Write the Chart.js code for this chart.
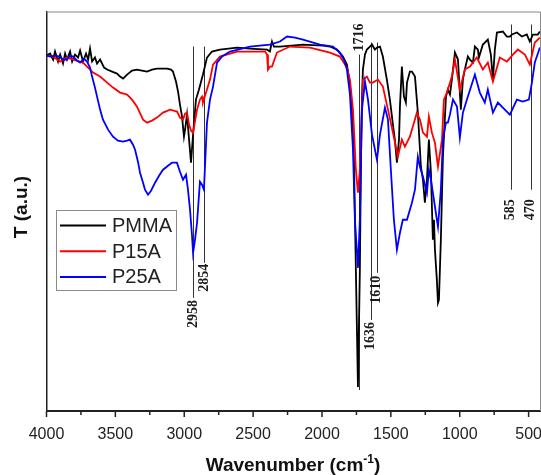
<!DOCTYPE html>
<html><head><meta charset="utf-8">
<script src="https://cdn.jsdelivr.net/npm/chart.js@4/dist/chart.umd.min.js"></script>
<style>html,body{margin:0;padding:0;background:#fff}canvas{display:block}</style>
</head><body>
<canvas id="c" width="541" height="475"></canvas>
<script>
// ---- data (wavenumber cm-1, transmittance in arbitrary units) ----
const seriesNames = ['PMMA', 'P15A', 'P25A'];
const pmmaWave = [4000,3974,3952,3938,3916,3901,3880,3865,3851,3829,3814,3793,3771,3756,3735,3713,3698,3684,3669,3648,3633,3611,3582,3560,3524,3488,3466,3444,3415,3379,3343,3307,3270,3234,3198,3161,3125,3096,3082,3060,3045,3031,3016,3002,2994,2980,2965,2951,2936,2915,2893,2864,2835,2799,2741,2617,2523,2399,2378,2363,2349,2305,2138,1993,1942,1891,1848,1819,1797,1783,1768,1754,1739,1725,1717,1710,1703,1688,1674,1652,1637,1616,1601,1579,1558,1529,1507,1485,1471,1456,1441,1434,1420,1405,1391,1383,1362,1347,1325,1304,1282,1267,1253,1238,1224,1209,1195,1187,1180,1166,1158,1151,1144,1137,1122,1100,1086,1071,1057,1035,1013,992,977,963,941,926,904,890,868,861,832,796,774,759,745,730,687,658,636,621,585,549,513,491,469,433,418];
const pmmaT = [355,357,351,359,349,356,347,357,351,359,349,356,353,360,349,357,351,362,349,353,347,351,343,341,339,337,334,332,336,340,341,340,339,341,342,342,342,341,339,329,319,306,294,274,281,296,271,248,276,311,321,336,353,359,361,363,362,361,359,369,364,364,366,365,364,361,354,346,326,301,251,141,24,141,251,311,341,356,361,364,366,361,363,364,354,331,311,286,271,248,271,304,344,314,308,328,339,339,334,298,244,231,208,231,271,238,171,191,161,131,108,111,141,171,254,314,321,316,331,358,351,301,331,341,354,351,348,364,361,353,366,371,356,331,361,378,379,374,374,376,378,374,376,369,376,376,379];
const p15aWave = [4000,3952,3901,3851,3807,3735,3662,3611,3560,3517,3466,3415,3379,3343,3299,3270,3234,3198,3154,3103,3052,3031,3009,2994,2980,2965,2951,2936,2922,2907,2886,2871,2864,2835,2813,2791,2741,2617,2486,2414,2399,2392,2378,2363,2327,2233,2087,1942,1870,1819,1797,1775,1754,1739,1725,1710,1703,1674,1652,1630,1594,1558,1521,1485,1449,1420,1398,1362,1311,1289,1267,1238,1224,1202,1180,1158,1129,1115,1093,1057,1035,999,963,926,876,832,796,759,709,658,614,578,527,491,455,418];
const p15aT = [355,354,349,353,351,348,338,334,328,323,318,316,311,304,291,288,290,293,298,301,299,293,291,297,298,286,280,278,289,301,311,314,308,321,331,346,354,359,359,359,356,341,344,344,358,364,363,358,354,343,331,301,241,218,241,301,331,334,328,328,331,324,301,278,254,271,264,274,298,291,278,274,294,278,268,244,271,311,318,334,351,321,341,344,353,341,348,329,353,349,356,361,356,346,368,373];
const p25aWave = [4000,3974,3938,3901,3880,3851,3829,3807,3778,3756,3727,3706,3684,3669,3648,3633,3611,3590,3553,3517,3481,3444,3415,3394,3372,3357,3336,3321,3299,3285,3263,3241,3212,3183,3154,3118,3089,3053,3031,3009,2987,2973,2958,2944,2936,2922,2907,2886,2871,2857,2835,2813,2791,2762,2726,2668,2523,2378,2305,2254,2196,2138,2015,1921,1870,1841,1819,1797,1775,1761,1739,1725,1717,1710,1688,1666,1637,1601,1579,1543,1521,1500,1478,1456,1434,1413,1383,1347,1325,1304,1289,1267,1238,1224,1209,1195,1180,1158,1137,1122,1100,1086,1071,1049,1020,999,977,941,890,854,818,796,759,723,687,636,585,542,498,476,455,418];
const p25aT = [355,354,355,354,351,351,355,354,350,348,352,349,343,334,323,314,301,291,281,274,270,269,270,271,266,261,249,238,228,221,216,220,228,235,241,245,248,248,239,231,236,221,201,176,158,171,188,229,226,221,288,311,324,348,354,359,364,366,369,374,373,371,366,364,358,351,341,316,261,191,143,191,251,301,329,311,276,251,276,303,291,241,191,161,178,191,191,208,221,254,244,234,218,241,231,218,204,184,221,271,288,288,296,311,304,273,298,314,336,318,308,321,298,308,303,296,311,309,311,328,348,363];
const xTickValues = [4000, 3500, 3000, 2500, 2000, 1500, 1000, 500];
const peakLabels = ['2958', '2854', '1716', '1636', '1610', '585', '470'];
const peakWave   = [2935, 2857, 1730, 1645, 1604, 629, 484];
const peakTop    = [364, 364, 356, 368, 368, 386, 386];
const peakBottom = [113, 148, 21, 91, 138, 221, 221];
const peakLabelT = [97, 133, 373, 75, 121, 201, 201];

const seriesColors = ['#000000', '#ff0000', '#0000ff'];
function pts(w, t) { return w.map((x, i) => ({ x: x, y: t[i] })); }

const decor = {
  id: 'decor',
  beforeDatasetsDraw(chart) {
    const ctx = chart.ctx, xs = chart.scales.x, ys = chart.scales.y;
    ctx.save();
    ctx.strokeStyle = '#333';
    ctx.lineWidth = 1;
    for (let i = 0; i < peakWave.length; i++) {
      const x = Math.round(xs.getPixelForValue(peakWave[i])) + 0.5;
      ctx.beginPath();
      ctx.moveTo(x, ys.getPixelForValue(peakTop[i]));
      ctx.lineTo(x, ys.getPixelForValue(peakBottom[i]));
      ctx.stroke();
    }
    ctx.restore();
  },
  afterDraw(chart) {
    const ctx = chart.ctx, xs = chart.scales.x, ys = chart.scales.y, a = chart.chartArea;
    ctx.save();
    // frame top/right
    ctx.strokeStyle = '#8a8a8a';
    ctx.lineWidth = 1;
    ctx.beginPath();
    ctx.moveTo(a.left, a.top + 0.5);
    ctx.lineTo(a.right - 0.5, a.top + 0.5);
    ctx.lineTo(a.right - 0.5, a.bottom);
    ctx.stroke();
    // x tick marks
    ctx.strokeStyle = '#222';
    ctx.lineWidth = 1.5;
    for (let v = 500; v <= 4000; v += 250) {
      const x = xs.getPixelForValue(v);
      const len = (v % 500 === 0) ? 6 : 4;
      ctx.beginPath();
      ctx.moveTo(x, a.bottom);
      ctx.lineTo(x, a.bottom + len);
      ctx.stroke();
    }
    // peak labels
    ctx.fillStyle = '#1a1a1a';
    ctx.font = 'bold 14px "Liberation Serif", "Times New Roman", serif';
    ctx.textAlign = 'center';
    ctx.textBaseline = 'middle';
    for (let i = 0; i < peakLabels.length; i++) {
      const x = xs.getPixelForValue(peakWave[i]);
      const y = ys.getPixelForValue(peakLabelT[i]);
      ctx.save();
      ctx.translate(x, y);
      ctx.rotate(-Math.PI / 2);
      ctx.fillText(peakLabels[i], 0, 0);
      ctx.restore();
    }
    // legend
    ctx.strokeStyle = '#8a8a8a';
    ctx.lineWidth = 1;
    ctx.strokeRect(56.5, 210.5, 120, 80);
    ctx.font = '20px "Liberation Sans", Arial, sans-serif';
    ctx.textAlign = 'left';
    ctx.textBaseline = 'middle';
    for (let i = 0; i < seriesNames.length; i++) {
      const y = 225.5 + i * 25.7;
      ctx.strokeStyle = seriesColors[i];
      ctx.lineWidth = 2;
      ctx.beginPath();
      ctx.moveTo(60, y);
      ctx.lineTo(106, y);
      ctx.stroke();
      ctx.fillStyle = '#222';
      ctx.fillText(seriesNames[i], 112, y + 1);
    }
    // axis titles
    ctx.fillStyle = '#111';
    ctx.font = 'bold 19px "Liberation Sans", Arial, sans-serif';
    ctx.textBaseline = 'alphabetic';
    const t1 = 'Wavenumber (cm', sup = '-1', t2 = ')';
    const w1 = ctx.measureText(t1).width, w2 = ctx.measureText(t2).width;
    ctx.font = 'bold 12px "Liberation Sans", Arial, sans-serif';
    const ws = ctx.measureText(sup).width;
    const total = w1 + ws + w2;
    let x0 = 293 - total / 2;
    const by = 471;
    ctx.font = 'bold 19px "Liberation Sans", Arial, sans-serif';
    ctx.fillText(t1, x0, by);
    ctx.font = 'bold 12px "Liberation Sans", Arial, sans-serif';
    ctx.fillText(sup, x0 + w1, by - 8);
    ctx.font = 'bold 19px "Liberation Sans", Arial, sans-serif';
    ctx.fillText(t2, x0 + w1 + ws, by);
    ctx.save();
    ctx.translate(22, 207);
    ctx.rotate(-Math.PI / 2);
    ctx.textAlign = 'center';
    ctx.textBaseline = 'middle';
    ctx.fillText('T (a.u.)', 0, 0);
    ctx.restore();
    ctx.restore();
  }
};

new Chart(document.getElementById('c'), {
  type: 'line',
  data: {
    datasets: [
      { label: seriesNames[0], data: pts(pmmaWave, pmmaT), borderColor: seriesColors[0], borderWidth: 1.8, order: 2 },
      { label: seriesNames[1], data: pts(p15aWave, p15aT), borderColor: seriesColors[1], borderWidth: 1.8, order: 1 },
      { label: seriesNames[2], data: pts(p25aWave, p25aT), borderColor: seriesColors[2], borderWidth: 1.8, order: 0 }
    ]
  },
  options: {
    responsive: false,
    animation: false,
    events: [],
    layout: { padding: { top: 11.5, right: 0, left: 0, bottom: 0 } },
    elements: { point: { radius: 0 }, line: { tension: 0, fill: false } },
    plugins: { legend: { display: false }, tooltip: { enabled: false } },
    scales: {
      x: {
        type: 'linear', reverse: true, min: 410, max: 4000,
        afterBuildTicks: s => { s.ticks = xTickValues.map(v => ({ value: v })); },
        afterFit: s => { s.height = 64; s.paddingLeft = 0; s.paddingRight = 0; },
        grid: { display: false, drawTicks: false },
        border: { display: true, color: '#222', width: 2 },
        ticks: { autoSkip: false, maxRotation: 0, padding: 14, color: '#222',
                 callback: v => String(v),
                 font: { family: '"Liberation Sans", Arial, sans-serif', size: 16 } }
      },
      y: {
        min: 0, max: 399,
        afterFit: s => { s.width = 46.5; },
        grid: { display: false, drawTicks: false },
        border: { display: true, color: '#222', width: 1.5 },
        ticks: { display: false }
      }
    }
  },
  plugins: [decor]
});
</script>
</body></html>
